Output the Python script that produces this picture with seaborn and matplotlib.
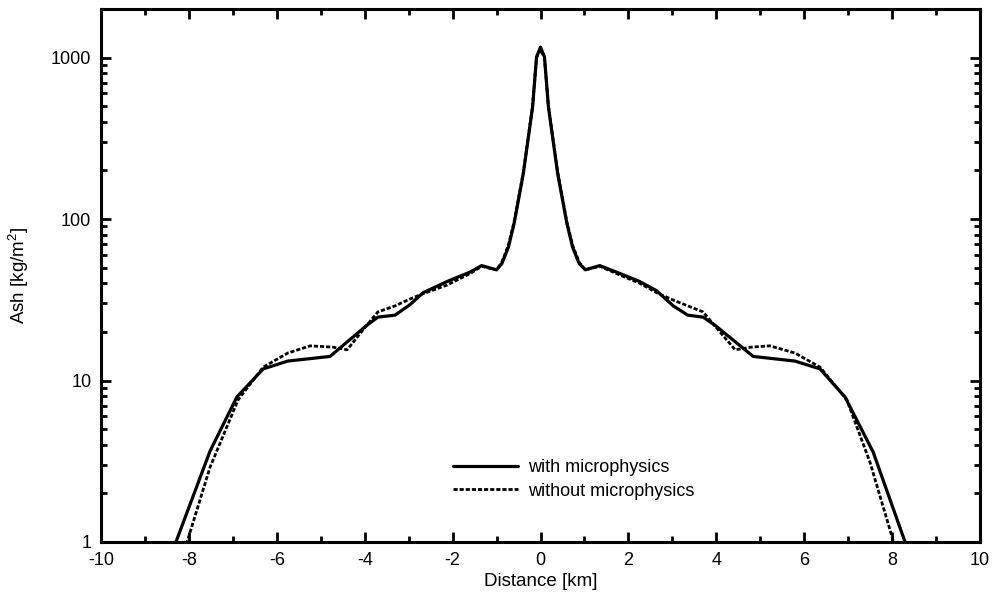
import numpy as np
import pandas as pd
import matplotlib
matplotlib.use("Agg")
import matplotlib.pyplot as plt
import seaborn as sns
from matplotlib.ticker import FixedLocator, LogLocator, NullFormatter, FixedFormatter

# ---- data ----
with_x = [-8.8, -7.52, -6.91, -6.31, -5.75, -4.79, -3.95, -3.70, -3.31, -2.97, -2.67, -2.13,
          -1.60, -1.34, -1.00, -0.88, -0.73, -0.60, -0.39, -0.18, -0.09, 0.0, 0.09, 0.18,
          0.39, 0.60, 0.73, 0.88, 1.02,
          1.35, 1.81, 2.26, 2.64, 3.02, 3.35, 3.70, 3.97, 4.84, 5.79, 6.36, 6.93, 7.57, 8.8]
with_y = [0.43, 3.65, 7.9, 11.8, 13.2, 14.1, 22.0, 24.7, 25.4, 29.5, 35.0, 41.0,
          47.0, 51.5, 48.5, 53, 67, 94, 192, 496, 1010, 1160, 1010, 496,
          192, 94, 67, 53, 48.5,
          51.5, 46.0, 41.0, 36.0, 29.0, 25.4, 24.7, 22.0, 14.1, 13.2, 11.8, 7.9, 3.6, 0.41]

without_x = [-8.6, -7.52, -6.88, -6.31, -5.75, -5.24, -4.72, -4.40, -3.99, -3.70, -3.31, -2.97,
             -2.67, -2.13, -1.60, -1.34, -1.00, -0.88, -0.73, -0.60, -0.39, -0.18, -0.09, 0.0,
             0.09, 0.18, 0.39, 0.60, 0.73, 0.88, 1.02, 1.35, 1.81, 2.26, 2.64, 3.02, 3.35,
             3.70, 3.99, 4.43, 4.80, 5.22, 5.79, 6.36, 6.97, 7.50, 8.6]
without_y = [0.32, 2.9, 7.6, 12.1, 14.8, 16.4, 16.1, 15.5, 21.4, 26.6, 29.0, 32.0,
             34.5, 39.0, 46.0, 51.0, 48.5, 54, 69, 96, 196, 500, 1000, 1120,
             1000, 500, 196, 96, 69, 54, 48.5, 51.0, 45.0, 40.0, 35.0, 31.5, 29.0,
             26.6, 21.4, 15.5, 16.1, 16.4, 14.8, 12.1, 7.6, 3.1, 0.30]

labels = ["with microphysics", "without microphysics"]
x_ticks = [-10, -8, -6, -4, -2, 0, 2, 4, 6, 8, 10]
y_ticks = [1, 10, 100, 1000]
y_ticklabels = ["1", "10", "100", "1000"]

# ---- style ----
sns.set_style("ticks")
plt.rcParams["font.family"] = ["Liberation Sans", "DejaVu Sans"]
plt.rcParams["mathtext.fontset"] = "custom"
plt.rcParams["mathtext.rm"] = "Liberation Sans"
plt.rcParams["mathtext.it"] = "Liberation Sans"
plt.rcParams["text.color"] = "black"
plt.rcParams["axes.labelcolor"] = "black"
plt.rcParams["axes.linewidth"] = 2.2

fig = plt.figure(figsize=(9.97, 5.96), dpi=100)
ax = fig.add_axes([101 / 997, 54 / 596, 879 / 997, 533 / 596])

df_with = pd.DataFrame({"x": with_x, "y": with_y})
df_without = pd.DataFrame({"x": without_x, "y": without_y})

sns.lineplot(data=df_with, x="x", y="y", ax=ax, color="black", lw=2.3,
             sort=False, estimator=None, label=labels[0])
sns.lineplot(data=df_without, x="x", y="y", ax=ax, color="black", lw=2.0,
             sort=False, estimator=None, label=labels[1], linestyle=(0, (1.5, 0.7)))

ax.set_yscale("log")
ax.set_xlim(-10, 10)
ax.set_ylim(1, 2000)

ax.xaxis.set_major_locator(FixedLocator(x_ticks))
ax.xaxis.set_minor_locator(FixedLocator([-9, -7, -5, -3, -1, 1, 3, 5, 7, 9]))
ax.set_xticklabels([str(t) for t in x_ticks])
ax.yaxis.set_major_locator(FixedLocator(y_ticks))
ax.yaxis.set_major_formatter(FixedFormatter(y_ticklabels))
ax.yaxis.set_minor_locator(LogLocator(base=10, subs=range(2, 10)))
ax.yaxis.set_minor_formatter(NullFormatter())

ax.tick_params(which="both", direction="in", top=True, right=True, labelsize=13,
               colors="black")
ax.tick_params(which="major", length=7, width=2.0)
ax.tick_params(which="minor", length=4, width=2.0)
ax.tick_params(axis="x", which="major", pad=7)
ax.tick_params(axis="y", which="major", pad=7)

for s in ax.spines.values():
    s.set_visible(True)
    s.set_linewidth(2.2)
    s.set_color("black")

ax.set_xlabel("Distance [km]", fontsize=13.5, labelpad=3)
ax.set_ylabel(r"Ash [kg/m$^{2}$]", fontsize=13.5, labelpad=14)

leg = ax.legend(loc="upper left", bbox_to_anchor=(0.39, 0.172), frameon=False,
                fontsize=13, handlelength=3.6, handletextpad=0.55, labelspacing=0.35,
                borderpad=0)

fig.savefig("out.png", dpi=100)
